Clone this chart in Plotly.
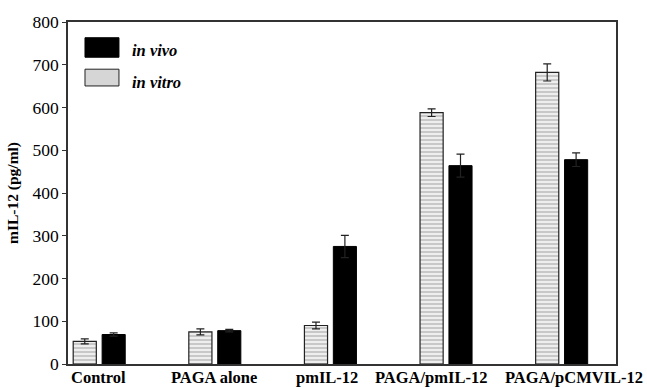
import plotly.graph_objects as go

# mIL-12 production by treatment group
categories = ["Control", "PAGA alone", "pmIL-12", "PAGA/pmIL-12", "PAGA/pCMVIL-12"]
in_vitro = [53, 75, 90, 588, 682]
in_vitro_err = [6, 7, 8, 9, 20]
in_vivo = [69, 78, 275, 464, 478]
in_vivo_err = [4, 3, 26, 27, 16]
y_ticks = [0, 100, 200, 300, 400, 500, 600, 700, 800]

# horizontal nudges (px) keeping the long group labels apart
label_shift = [-1, -1, -3, -15, 12]

SERIF = "Liberation Serif, Times New Roman, serif"

fig = go.Figure()

fig.add_trace(go.Bar(
    x=categories, y=in_vitro, name="in vitro",
    width=0.2, offset=-0.225,
    marker=dict(color="white",
                line=dict(color="#222", width=1.2),
                pattern=dict(shape="-", fgcolor="#9a9a9a", bgcolor="#eeeeee",
                             size=4, solidity=0.45)),
    error_y=dict(type="data", array=in_vitro_err, color="#222",
                 thickness=1.2, width=4),
))
fig.add_trace(go.Bar(
    x=categories, y=in_vivo, name="in vivo",
    width=0.2, offset=0.025,
    marker=dict(color="black", line=dict(color="black", width=1)),
    error_y=dict(type="data", array=in_vivo_err, color="#222",
                 thickness=1.2, width=4),
))

# group labels under the axis
for cat, dx in zip(categories, label_shift):
    fig.add_annotation(x=cat, y=0, xref="x", yref="y", text=f"<b>{cat}</b>",
                       showarrow=False, yanchor="top", yshift=-2, xshift=dx,
                       font=dict(family=SERIF, size=16.5, color="black"))

# key in the upper-left corner
fig.add_shape(type="rect", xref="paper", yref="paper",
              x0=0.031, x1=0.093, y0=0.897, y1=0.954,
              fillcolor="black", line=dict(color="black", width=1))
fig.add_shape(type="rect", xref="paper", yref="paper",
              x0=0.031, x1=0.093, y0=0.813, y1=0.862,
              fillcolor="#d6d6d6", line=dict(color="#222", width=1))
fig.add_annotation(xref="paper", yref="paper", x=0.114, y=0.917,
                   text="<b><i>in vivo</i></b>", showarrow=False,
                   xanchor="left", yanchor="middle",
                   font=dict(family=SERIF, size=16.5, color="black"))
fig.add_annotation(xref="paper", yref="paper", x=0.114, y=0.822,
                   text="<b><i>in vitro</i></b>", showarrow=False,
                   xanchor="left", yanchor="middle",
                   font=dict(family=SERIF, size=16.5, color="black"))

fig.update_layout(
    width=647, height=387,
    margin=dict(l=66, r=31, t=16, b=23),
    paper_bgcolor="white", plot_bgcolor="white",
    showlegend=False,
    font=dict(family=SERIF, color="black"),
    xaxis=dict(type="category", range=[-0.27, 4.47], showticklabels=False,
               ticks="", showline=True, linecolor="#333", linewidth=1.5,
               mirror=True, showgrid=False, zeroline=False),
    yaxis=dict(range=[0, 800], tickvals=y_ticks, ticks="outside", ticklen=4,
               tickcolor="#333", showline=True, linecolor="#333", linewidth=1.5,
               mirror=True, showgrid=False, zeroline=False,
               tickfont=dict(family=SERIF, size=17.5, color="black"),
               title=dict(text="<b>mIL-12 (pg/ml)</b>", standoff=10,
                          font=dict(family=SERIF, size=15.5, color="black"))),
)

fig.write_html("out.html")
